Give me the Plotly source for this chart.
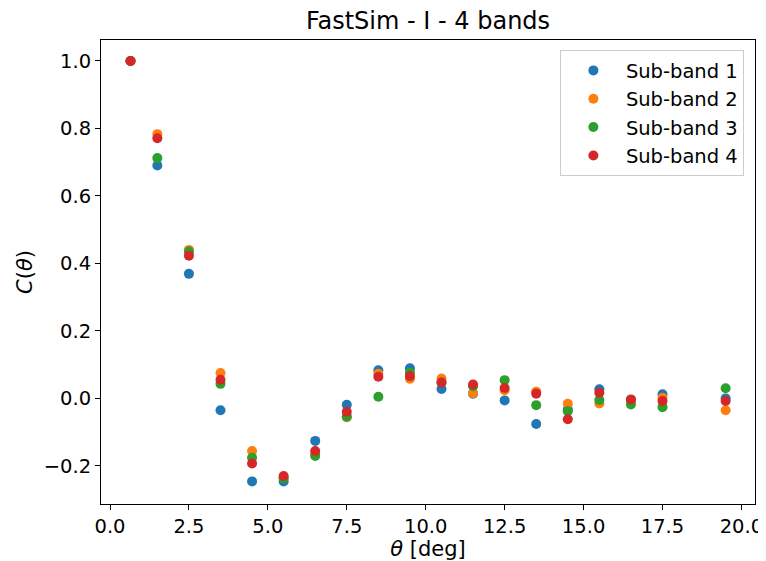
import plotly.graph_objects as go

theta = [0.65, 1.5, 2.5, 3.5, 4.5, 5.5, 6.5, 7.5, 8.5, 9.5, 10.5, 11.5, 12.5, 13.5, 14.5, 15.5, 16.5, 17.5, 19.5]
band1 = [1.0, 0.690, 0.369, -0.035, -0.246, -0.246, -0.126, -0.019, 0.083, 0.089, 0.028, 0.014, -0.006, -0.076, -0.033, 0.027, -0.005, 0.012, 0.0]
band2 = [1.0, 0.783, 0.440, 0.075, -0.156, -0.235, -0.165, -0.056, 0.073, 0.058, 0.059, 0.015, 0.024, 0.020, -0.016, -0.015, -0.008, 0.002, -0.035]
band3 = [1.0, 0.712, 0.435, 0.043, -0.176, -0.237, -0.171, -0.054, 0.005, 0.076, 0.047, 0.036, 0.054, -0.020, -0.038, -0.005, -0.018, -0.026, 0.030]
band4 = [1.0, 0.771, 0.423, 0.055, -0.193, -0.230, -0.156, -0.040, 0.064, 0.066, 0.047, 0.041, 0.031, 0.014, -0.062, 0.017, -0.003, -0.008, -0.008]
names = ["Sub-band 1", "Sub-band 2", "Sub-band 3", "Sub-band 4"]
colors = ["#1f77b4", "#ff7f0e", "#2ca02c", "#d62728"]

FONT = "DejaVu Sans"
W, H = 758, 553  # page body has an 8px margin
fig = go.Figure()
for name, vals, c in zip(names, [band1, band2, band3, band4], colors):
    fig.add_trace(go.Scatter(x=theta, y=vals, mode="markers", name=name,
                             marker=dict(color=c, size=10, line=dict(width=0))))

axis_common = dict(showline=True, linecolor="black", linewidth=1, mirror=True,
                   ticks="outside", ticklen=5, tickcolor="black", showgrid=False,
                   zeroline=False, automargin=False,
                   tickfont=dict(family=FONT, size=19.5, color="black"))
fig.update_xaxes(range=[-0.285, 20.43], dtick=2.5, tick0=0, tickformat=".1f",
                 title=dict(text="<i>θ</i> [deg]", font=dict(family=FONT, size=21, color="black"), standoff=2),
                 **axis_common)
fig.update_yaxes(range=[-0.313, 1.062], dtick=0.2, tick0=0, tickformat=".1f",
                 title=dict(text="<i>C</i>(<i>θ</i>)", font=dict(family=FONT, size=21, color="black"), standoff=5),
                 **axis_common)
fig.update_layout(
    width=W, height=H,
    margin=dict(l=93, r=11, t=32, b=57, autoexpand=False),
    plot_bgcolor="white", paper_bgcolor="white",
    title=dict(text="FastSim - I - 4 bands", x=0.5, xref="paper", y=1 - 13/H, yanchor="middle",
               font=dict(family=FONT, size=24, color="black")),
    legend=dict(x=0.983, y=0.978, xanchor="right", yanchor="top",
                bgcolor="rgba(255,255,255,0.8)", bordercolor="#cccccc", borderwidth=1,
                font=dict(family=FONT, size=19.5, color="black"), itemwidth=55),
)
fig.write_html("out.html")
